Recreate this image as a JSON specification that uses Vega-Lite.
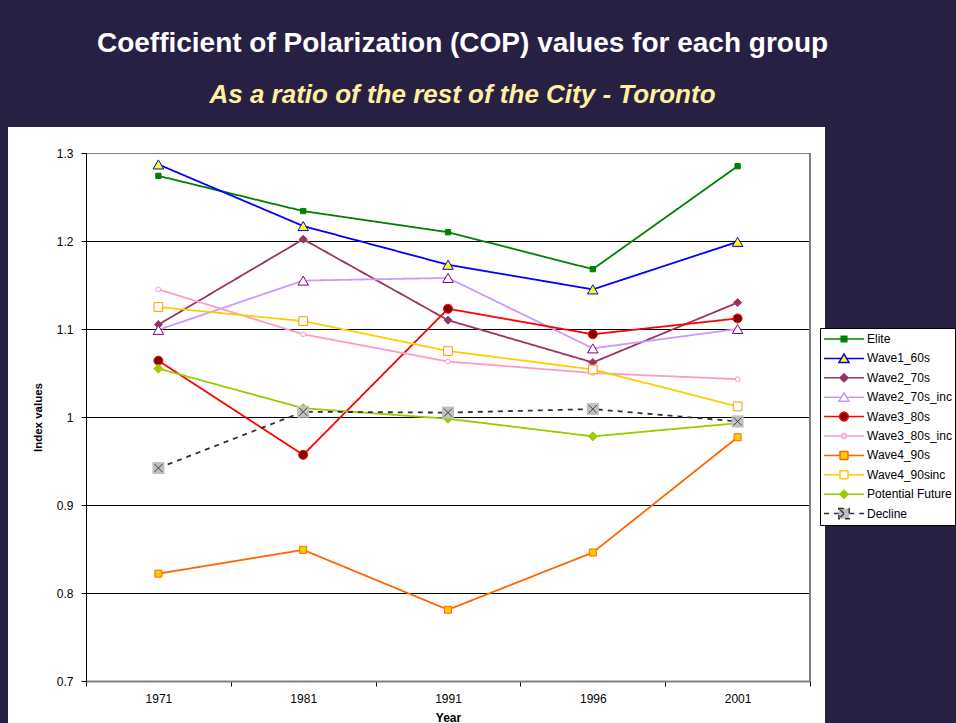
{
  "$schema": "https://vega.github.io/schema/vega-lite/v6.json",
  "autosize": {"type": "none"},
  "width": 817,
  "height": 596,
  "padding": {"left": 8, "top": 127, "right": 131, "bottom": 0},
  "background": "#282042",
  "title": {
    "text": "Coefficient of Polarization (COP) values for each group",
    "subtitle": "As a ratio of the rest of the City - Toronto",
    "anchor": "middle",
    "frame": "group",
    "dx": 46,
    "offset": 19,
    "font": "Liberation Sans",
    "fontSize": 28,
    "fontWeight": "bold",
    "color": "#FFFFFF",
    "subtitleFont": "Liberation Sans",
    "subtitleFontSize": 26,
    "subtitleFontWeight": "bold",
    "subtitleFontStyle": "italic",
    "subtitleColor": "#FFEF9F",
    "subtitlePadding": 24
  },
  "data": {
    "values": [
      {"year": "1971", "series": "Elite", "value": 1.274},
      {"year": "1981", "series": "Elite", "value": 1.234},
      {"year": "1991", "series": "Elite", "value": 1.210},
      {"year": "1996", "series": "Elite", "value": 1.168},
      {"year": "2001", "series": "Elite", "value": 1.285},
      {"year": "1971", "series": "Wave1_60s", "value": 1.287},
      {"year": "1981", "series": "Wave1_60s", "value": 1.217},
      {"year": "1991", "series": "Wave1_60s", "value": 1.173},
      {"year": "1996", "series": "Wave1_60s", "value": 1.145},
      {"year": "2001", "series": "Wave1_60s", "value": 1.199},
      {"year": "1971", "series": "Wave2_70s", "value": 1.105},
      {"year": "1981", "series": "Wave2_70s", "value": 1.202},
      {"year": "1991", "series": "Wave2_70s", "value": 1.110},
      {"year": "1996", "series": "Wave2_70s", "value": 1.062},
      {"year": "2001", "series": "Wave2_70s", "value": 1.130},
      {"year": "1971", "series": "Wave2_70s_inc", "value": 1.099},
      {"year": "1981", "series": "Wave2_70s_inc", "value": 1.155},
      {"year": "1991", "series": "Wave2_70s_inc", "value": 1.158},
      {"year": "1996", "series": "Wave2_70s_inc", "value": 1.078},
      {"year": "2001", "series": "Wave2_70s_inc", "value": 1.100},
      {"year": "1971", "series": "Wave3_80s", "value": 1.064},
      {"year": "1981", "series": "Wave3_80s", "value": 0.957},
      {"year": "1991", "series": "Wave3_80s", "value": 1.123},
      {"year": "1996", "series": "Wave3_80s", "value": 1.094},
      {"year": "2001", "series": "Wave3_80s", "value": 1.112},
      {"year": "1971", "series": "Wave3_80s_inc", "value": 1.145},
      {"year": "1981", "series": "Wave3_80s_inc", "value": 1.094},
      {"year": "1991", "series": "Wave3_80s_inc", "value": 1.063},
      {"year": "1996", "series": "Wave3_80s_inc", "value": 1.050},
      {"year": "2001", "series": "Wave3_80s_inc", "value": 1.043},
      {"year": "1971", "series": "Wave4_90s", "value": 0.822},
      {"year": "1981", "series": "Wave4_90s", "value": 0.849},
      {"year": "1991", "series": "Wave4_90s", "value": 0.781},
      {"year": "1996", "series": "Wave4_90s", "value": 0.846},
      {"year": "2001", "series": "Wave4_90s", "value": 0.977},
      {"year": "1971", "series": "Wave4_90sinc", "value": 1.125},
      {"year": "1981", "series": "Wave4_90sinc", "value": 1.109},
      {"year": "1991", "series": "Wave4_90sinc", "value": 1.075},
      {"year": "1996", "series": "Wave4_90sinc", "value": 1.054},
      {"year": "2001", "series": "Wave4_90sinc", "value": 1.012},
      {"year": "1971", "series": "Potential Future", "value": 1.055},
      {"year": "1981", "series": "Potential Future", "value": 1.010},
      {"year": "1991", "series": "Potential Future", "value": 0.998},
      {"year": "1996", "series": "Potential Future", "value": 0.978},
      {"year": "2001", "series": "Potential Future", "value": 0.993},
      {"year": "1971", "series": "Decline", "value": 0.942},
      {"year": "1981", "series": "Decline", "value": 1.006},
      {"year": "1991", "series": "Decline", "value": 1.005},
      {"year": "1996", "series": "Decline", "value": 1.009},
      {"year": "2001", "series": "Decline", "value": 0.995}
    ]
  },
  "encoding": {
    "x": {
      "field": "year",
      "type": "ordinal",
      "scale": {"type": "band", "range": [78, 802], "paddingInner": 0, "paddingOuter": 0},
      "axis": {
        "orient": "bottom",
        "offset": -42,
        "tickBand": "extent",
        "labelAngle": 0,
        "domainColor": "#808080",
        "domainWidth": 2,
        "tickColor": "#000000",
        "tickSize": 5,
        "labelFont": "Liberation Sans",
        "labelFontSize": 12,
        "labelColor": "#000000",
        "labelPadding": 7,
        "grid": false,
        "title": "Year",
        "titleFont": "Liberation Sans",
        "titleFontSize": 12,
        "titleFontWeight": "bold",
        "titleColor": "#000000",
        "titlePadding": 8
      }
    },
    "y": {
      "field": "value",
      "type": "quantitative",
      "scale": {"domain": [0.7, 1.3], "range": [554, 26], "zero": false, "nice": false},
      "axis": {
        "orient": "left",
        "offset": -78,
        "values": [0.7, 0.8, 0.9, 1, 1.1, 1.2, 1.3],
        "format": "~g",
        "grid": true,
        "gridColor": {"condition": {"test": "datum.value > 1.25 || datum.value < 0.75", "value": "#808080"}, "value": "#000000"},
        "gridWidth": 1,
        "domainColor": "#000000",
        "tickColor": "#000000",
        "tickSize": 5,
        "labelFont": "Liberation Sans",
        "labelFontSize": 12,
        "labelColor": "#000000",
        "labelPadding": 8,
        "title": "Index values",
        "titleFont": "Liberation Sans",
        "titleFontSize": 11.5,
        "titleFontWeight": "bold",
        "titleColor": "#000000",
        "titlePadding": 13
      }
    }
  },
  "layer": [
    {
      "transform": [{"filter": "false"}],
      "mark": {"type": "point", "filled": false, "opacity": 1, "strokeWidth": 1.5},
      "encoding": {
        "color": {
          "field": "series", "type": "nominal",
          "scale": {
            "domain": ["Elite", "Wave1_60s", "Wave2_70s", "Wave2_70s_inc", "Wave3_80s", "Wave3_80s_inc", "Wave4_90s", "Wave4_90sinc", "Potential Future", "Decline"],
            "range": ["#008000", "#0000FF", "#993366", "#CC99FF", "#FF0000", "#FF99CC", "#FF6600", "#FFCC00", "#99CC00", "#333333"]
          },
          "legend": {"title": null, "orient": "none", "legendX": 812, "legendY": 201}
        },
        "fill": {
          "field": "series", "type": "nominal",
          "scale": {
            "domain": ["Elite", "Wave1_60s", "Wave2_70s", "Wave2_70s_inc", "Wave3_80s", "Wave3_80s_inc", "Wave4_90s", "Wave4_90sinc", "Potential Future", "Decline"],
            "range": ["#008000", "#FFFF00", "#993366", "#FFFFFF", "#800000", "#FFFFFF", "#FFCC00", "#FFFFFF", "#99CC00", "#C0C0C0"]
          },
          "legend": {"title": null, "orient": "none", "legendX": 812, "legendY": 201}
        },
        "shape": {
          "field": "series", "type": "nominal",
          "scale": {
            "domain": ["Elite", "Wave1_60s", "Wave2_70s", "Wave2_70s_inc", "Wave3_80s", "Wave3_80s_inc", "Wave4_90s", "Wave4_90sinc", "Potential Future", "Decline"],
            "range": [
              "M-1,0H1M-0.14,-0.14H0.14V0.14H-0.14Z",
              "M-1,0H-0.14M0.14,0H1M0,-0.22L0.25,0.2H-0.25Z",
              "M-1,0H1M0,-0.2L0.2,0L0,0.2L-0.2,0Z",
              "M-1,0H-0.14M0.14,0H1M0,-0.22L0.25,0.2H-0.25Z",
              "M-1,0H-0.22M0.22,0H1M0.22,0L0.19,0.11L0.11,0.19L0,0.22L-0.11,0.19L-0.19,0.11L-0.22,0L-0.19,-0.11L-0.11,-0.19L0,-0.22L0.11,-0.19L0.19,-0.11Z",
              "M-1,0H-0.12M0.12,0H1M0.12,0L0.104,0.06L0.06,0.104L0,0.12L-0.06,0.104L-0.104,0.06L-0.12,0L-0.104,-0.06L-0.06,-0.104L0,-0.12L0.06,-0.104L0.104,-0.06Z",
              "M-1,0H-0.2M0.2,0H1M-0.2,-0.2H0.2V0.2H-0.2Z",
              "M-1,0H-0.2M0.2,0H1M-0.2,-0.2H0.2V0.2H-0.2Z",
              "M-1,0H-0.2M0.2,0H1M0,-0.2L0.2,0L0,0.2L-0.2,0Z",
              "M-1,0H-0.26M0.26,0H1M-0.26,-0.26H0.26V0.26H-0.26ZM-0.18,-0.18L0.18,0.18M-0.18,0.18L0.18,-0.18"
            ]
          },
          "legend": {"title": null, "orient": "none", "legendX": 812, "legendY": 201}
        },
        "strokeDash": {
          "field": "series", "type": "nominal",
          "scale": {
            "domain": ["Elite", "Wave1_60s", "Wave2_70s", "Wave2_70s_inc", "Wave3_80s", "Wave3_80s_inc", "Wave4_90s", "Wave4_90sinc", "Potential Future", "Decline"],
            "range": [[1, 0], [1, 0], [1, 0], [1, 0], [1, 0], [1, 0], [1, 0], [1, 0], [1, 0], [5, 5]]
          },
          "legend": {"title": null, "orient": "none", "legendX": 812, "legendY": 201}
        }
      }
    },
    {
      "mark": {"type": "rule", "color": "#808080", "strokeWidth": 1},
      "encoding": {
        "x": {"datum": "2001", "type": "ordinal", "bandPosition": 1},
        "y": {"datum": 1.3, "type": "quantitative"},
        "y2": {"datum": 0.7}
      }
    },
    {
      "mark": {"type": "line", "strokeWidth": 1.8},
      "encoding": {
        "color": {
          "field": "series", "type": "nominal",
          "scale": {
            "domain": ["Elite", "Wave1_60s", "Wave2_70s", "Wave2_70s_inc", "Wave3_80s", "Wave3_80s_inc", "Wave4_90s", "Wave4_90sinc", "Potential Future", "Decline"],
            "range": ["#008000", "#0000FF", "#993366", "#CC99FF", "#FF0000", "#FF99CC", "#FF6600", "#FFCC00", "#99CC00", "#333333"]
          },
          "legend": null
        },
        "strokeDash": {
          "field": "series", "type": "nominal",
          "scale": {
            "domain": ["Elite", "Wave1_60s", "Wave2_70s", "Wave2_70s_inc", "Wave3_80s", "Wave3_80s_inc", "Wave4_90s", "Wave4_90sinc", "Potential Future", "Decline"],
            "range": [[1, 0], [1, 0], [1, 0], [1, 0], [1, 0], [1, 0], [1, 0], [1, 0], [1, 0], [5, 5]]
          },
          "legend": null
        }
      }
    },
    {
      "transform": [{"filter": {"field": "series", "equal": "Elite"}}],
      "mark": {"type": "point", "shape": "square", "filled": true, "opacity": 1, "fill": "#008000", "stroke": "#008000", "strokeWidth": 1, "size": 28}
    },
    {
      "transform": [{"filter": {"field": "series", "equal": "Wave1_60s"}}],
      "mark": {"type": "point", "shape": "triangle-up", "filled": true, "opacity": 1, "fill": "#FFFF00", "stroke": "#0000FF", "strokeWidth": 1, "size": 110}
    },
    {
      "transform": [{"filter": {"field": "series", "equal": "Wave2_70s"}}],
      "mark": {"type": "point", "shape": "diamond", "filled": true, "opacity": 1, "fill": "#993366", "stroke": "#993366", "strokeWidth": 1, "size": 64}
    },
    {
      "transform": [{"filter": {"field": "series", "equal": "Wave2_70s_inc"}}],
      "mark": {"type": "point", "shape": "triangle-up", "filled": true, "opacity": 1, "fill": "#FFFFFF", "stroke": "#800080", "strokeWidth": 1, "size": 110}
    },
    {
      "transform": [{"filter": {"field": "series", "equal": "Wave3_80s"}}],
      "mark": {"type": "point", "shape": "circle", "filled": true, "opacity": 1, "fill": "#800000", "stroke": "#FF0000", "strokeWidth": 1, "size": 81}
    },
    {
      "transform": [{"filter": {"field": "series", "equal": "Wave3_80s_inc"}}],
      "mark": {"type": "point", "shape": "circle", "filled": true, "opacity": 1, "fill": "#FFFFFF", "stroke": "#FF99CC", "strokeWidth": 1, "size": 24}
    },
    {
      "transform": [{"filter": {"field": "series", "equal": "Wave4_90s"}}],
      "mark": {"type": "point", "shape": "square", "filled": true, "opacity": 1, "fill": "#FFCC00", "stroke": "#FF6600", "strokeWidth": 1, "size": 49}
    },
    {
      "transform": [{"filter": {"field": "series", "equal": "Wave4_90sinc"}}],
      "mark": {"type": "point", "shape": "square", "filled": true, "opacity": 1, "fill": "#FFFFFF", "stroke": "#FF9900", "strokeWidth": 1, "size": 76}
    },
    {
      "transform": [{"filter": {"field": "series", "equal": "Potential Future"}}],
      "mark": {"type": "point", "shape": "diamond", "filled": true, "opacity": 1, "fill": "#99CC00", "stroke": "#99CC00", "strokeWidth": 1, "size": 81}
    },
    {
      "transform": [{"filter": {"field": "series", "equal": "Decline"}}],
      "mark": {"type": "point", "shape": "square", "filled": true, "opacity": 1, "fill": "#C0C0C0", "strokeWidth": 0, "size": 144}
    },
    {
      "transform": [{"filter": {"field": "series", "equal": "Decline"}}],
      "mark": {"type": "point", "shape": "M-1,-1L1,1M-1,1L1,-1", "filled": false, "opacity": 1, "stroke": "#404040", "strokeWidth": 1, "size": 64}
    }
  ],
  "config": {
    "font": "Liberation Sans",
    "view": {"fill": "#FFFFFF", "stroke": null},
    "legend": {
      "orient": "none",
      "legendX": 812,
      "legendY": 201,
      "fillColor": "#FFFFFF",
      "strokeColor": "#000000",
      "padding": 3,
      "symbolSize": 1600,
      "symbolStrokeWidth": 1.5,
      "symbolFillColor": "#FFFFFF",
      "symbolStrokeColor": "#000000",
      "labelFont": "Liberation Sans",
      "labelFontSize": 12,
      "labelColor": "#000000",
      "labelOffset": 2,
      "clipHeight": 16,
      "rowPadding": 3.4,
      "labelLimit": 200
    }
  }
}
